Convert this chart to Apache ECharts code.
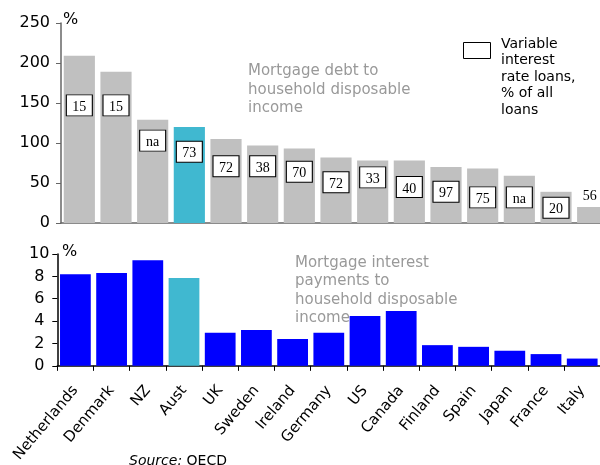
<!DOCTYPE html>
<html>
<head>
<meta charset="utf-8">
<script src="https://cdn.jsdelivr.net/npm/echarts@6/dist/echarts.min.js"></script>
<style>
  html, body { margin: 0; padding: 0; background: #fff; overflow: hidden; width: 600px; height: 465px; }
  /* the debt panel runs past the right edge, so the canvas is a bit wider than the page */
  #chart { width: 620px; height: 465px; }
</style>
</head>
<body>
<div id="chart"></div>
<script>
// Countries, ordered by mortgage debt
const countries = ['Netherlands', 'Denmark', 'NZ', 'Aust', 'UK', 'Sweden', 'Ireland', 'Germany', 'US', 'Canada', 'Finland', 'Spain', 'Japan', 'France', 'Italy'];
// Mortgage debt to household disposable income, %
const debtToIncome = [209, 189, 129, 120, 105, 97, 93, 82, 78, 78, 70, 68, 59, 39, 20];
// Variable interest rate loans, % of all loans
const variableShare = ['15', '15', 'na', '73', '72', '38', '70', '72', '33', '40', '97', '75', 'na', '20', '56'];
// Mortgage interest payments to household disposable income, %
const interestToIncome = [8.2, 8.3, 9.45, 7.85, 2.95, 3.2, 2.4, 2.95, 4.45, 4.9, 1.85, 1.7, 1.35, 1.05, 0.65];
// Tick labels
const debtTicks = [0, 50, 100, 150, 200, 250];
const interestTicks = [0, 2, 4, 6, 8, 10];

const highlight = 'Aust';

// Where each boxed label sits on the debt scale (null: label drawn above the bar)
const boxLevel = [147, 147, 103, 89, 71, 71, 64, 51, 57, 45, 39, 32, 32, 19, null];

const GREY = '#c0c0c0';
const TEAL = '#40b8d0';
const BLUE = '#0000ff';
const SANS = '"DejaVu Sans", Verdana, sans-serif';
const SERIF = '"Liberation Serif", "Times New Roman", serif';

const chart = echarts.init(document.getElementById('chart'), null, { renderer: 'canvas' });

const debtBars = debtToIncome.map((v, i) => {
  const item = { value: v, itemStyle: { color: countries[i] === highlight ? TEAL : GREY } };
  if (boxLevel[i] === null) {
    item.label = {
      show: true, position: 'top', distance: 4, offset: [-3, 0],
      formatter: variableShare[i], fontFamily: SERIF, fontSize: 14, color: '#000'
    };
  }
  return item;
});

const boxes = boxLevel.map((lvl, i) => lvl === null ? null : {
  value: [countries[i], lvl],
  label: { formatter: variableShare[i] }
}).filter(d => d !== null);

const interestBars = interestToIncome.map((v, i) => ({
  value: v,
  itemStyle: { color: countries[i] === highlight ? TEAL : BLUE }
}));

chart.setOption({
  animation: false,
  grid: [
    { left: 61, top: 23, width: 550, height: 200 },
    { left: 57.3, top: 254, width: 543, height: 112 }
  ],
  xAxis: [
    {
      gridIndex: 0, type: 'category', data: countries,
      axisLine: { lineStyle: { color: '#666', width: 1.5 } },
      axisTick: { show: false }, axisLabel: { show: false }
    },
    {
      gridIndex: 1, type: 'category', data: countries,
      axisLine: { lineStyle: { color: '#000', width: 1.5 } },
      axisTick: { show: true, length: 5, lineStyle: { color: '#000' } },
      axisLabel: {
        rotate: 50, margin: 22, fontFamily: SANS, fontSize: 15, color: '#000', interval: 0
      }
    }
  ],
  yAxis: [
    {
      gridIndex: 0, type: 'value', min: debtTicks[0], max: debtTicks[debtTicks.length - 1], interval: 50,
      axisLine: { show: true, lineStyle: { color: '#666', width: 1.5 } },
      axisTick: { show: true, length: 5, lineStyle: { color: '#666' } },
      splitLine: { show: false },
      axisLabel: { margin: 11, fontFamily: SANS, fontSize: 16, color: '#000' }
    },
    {
      gridIndex: 1, type: 'value', min: interestTicks[0], max: interestTicks[interestTicks.length - 1], interval: 2,
      axisLine: { show: true, lineStyle: { color: '#000', width: 1.5 } },
      axisTick: { show: true, length: 5, lineStyle: { color: '#000' } },
      splitLine: { show: false },
      axisLabel: { margin: 18, align: 'center', fontFamily: SANS, fontSize: 16, color: '#000' }
    }
  ],
  series: [
    {
      type: 'bar', xAxisIndex: 0, yAxisIndex: 0, data: debtBars,
      barCategoryGap: '15%'
    },
    {
      type: 'scatter', xAxisIndex: 0, yAxisIndex: 0, data: boxes, z: 5,
      symbol: 'rect', symbolSize: [26, 21],
      itemStyle: { color: '#fff', borderColor: '#000', borderWidth: 1, opacity: 1 },
      label: {
        show: true, position: 'inside', offset: [0, 2],
        fontFamily: SERIF, fontSize: 14, color: '#000'
      },
      emphasis: { disabled: true }
    },
    {
      type: 'bar', xAxisIndex: 1, yAxisIndex: 1, data: interestBars,
      barCategoryGap: '15%'
    }
  ],
  graphic: [
    { type: 'text', left: 63, top: 12, style: { text: '%', font: '16px ' + SANS, fill: '#000' } },
    { type: 'text', left: 62, top: 244, style: { text: '%', font: '16px ' + SANS, fill: '#000' } },
    {
      type: 'text', left: 248, top: 62,
      style: {
        text: 'Mortgage debt to\nhousehold disposable\nincome',
        font: '15px ' + SANS, fill: '#999', lineHeight: 18.5
      }
    },
    {
      type: 'text', left: 295, top: 254,
      style: {
        text: 'Mortgage interest\npayments to\nhousehold disposable\nincome',
        font: '15px ' + SANS, fill: '#999', lineHeight: 18.3
      }
    },
    {
      type: 'rect', shape: { x: 463.5, y: 42.5, width: 27, height: 16 },
      style: { fill: '#fff', stroke: '#000', lineWidth: 1 }
    },
    {
      type: 'text', left: 501, top: 36,
      style: {
        text: 'Variable\ninterest\nrate loans,\n% of all\nloans',
        font: '14px ' + SANS, fill: '#000', lineHeight: 16.5
      }
    },
    {
      type: 'text', left: 129, top: 454,
      style: {
        text: '{i|Source:} OECD',
        font: '14px ' + SANS, fill: '#000',
        rich: { i: { fontStyle: 'italic', fontFamily: SANS, fontSize: 14, fill: '#000' } }
      }
    }
  ]
});
</script>
</body>
</html>
